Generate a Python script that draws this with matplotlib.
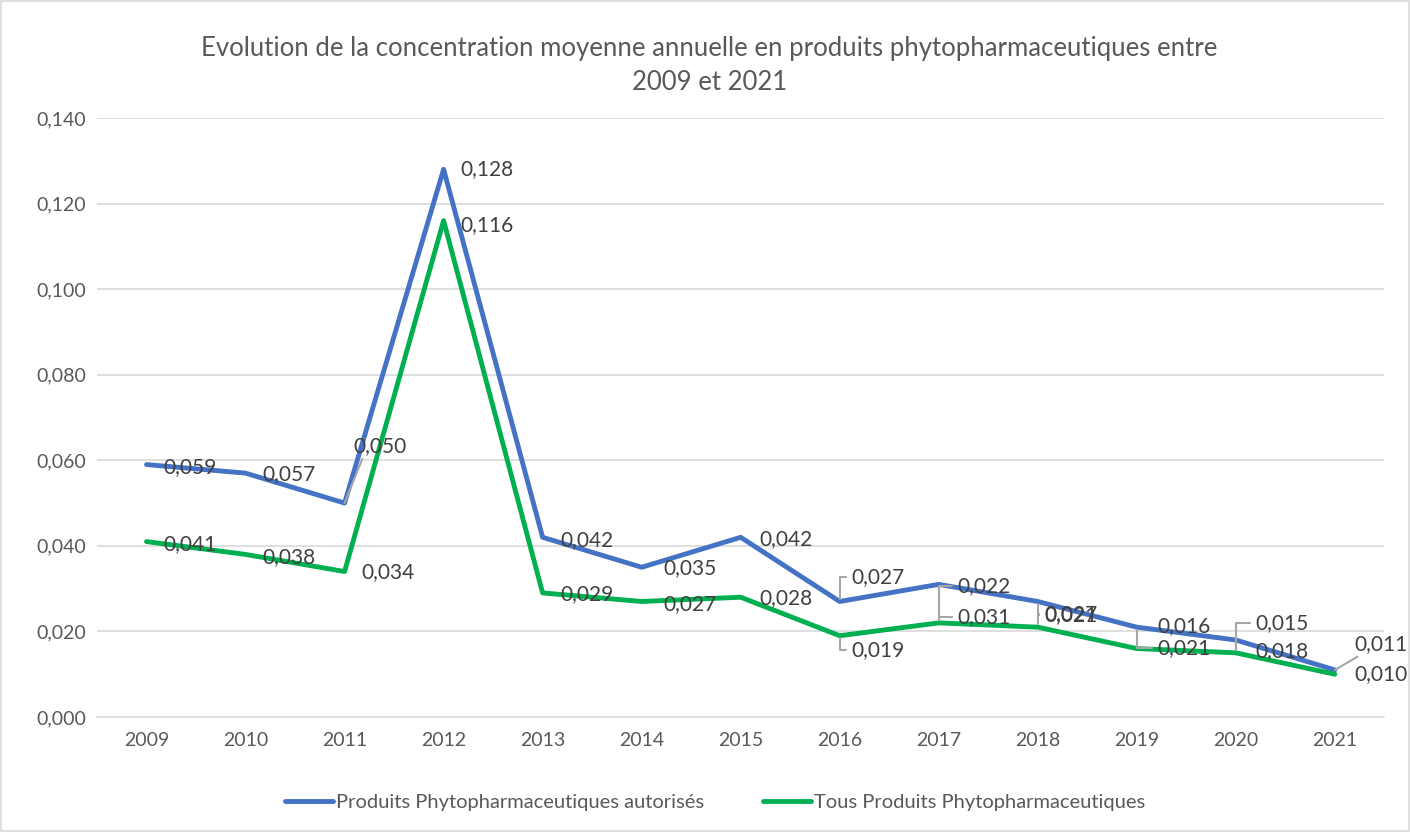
import matplotlib.pyplot as plt
from matplotlib.patches import Rectangle

years = ["2009", "2010", "2011", "2012", "2013", "2014", "2015",
         "2016", "2017", "2018", "2019", "2020", "2021"]
autorises = [0.059, 0.057, 0.050, 0.128, 0.042, 0.035, 0.042,
             0.027, 0.031, 0.027, 0.021, 0.018, 0.011]
tous = [0.041, 0.038, 0.034, 0.116, 0.029, 0.027, 0.028,
        0.019, 0.022, 0.021, 0.016, 0.015, 0.010]

# label texts as shown in the chart (some swapped by Excel placement)
lab_blue = ["0,059", "0,057", "0,050", "0,128", "0,042", "0,035", "0,042",
            "0,027", "0,031", "0,027", "0,021", "0,018", "0,011"]
lab_green = ["0,041", "0,038", "0,034", "0,116", "0,029", "0,027", "0,028",
             "0,019", "0,022", "0,021", "0,016", "0,015", "0,010"]

# label offsets in pixels (dx, dy up) and leader kind
off_blue = [(17, -3), (17, -1), (9, 57), (17, 0), (18, -3), (22, -1), (19, -2),
            (12, 24), (19, -33), (7, -13), (21, -21), (20, -11), (20, 26)]
lead_blue = [None, None, "line", None, None, None, None,
             "angle", "angle", "angle", "angle", None, "line"]
off_green = [(17, -3), (17, -3), (17, -1), (17, -4), (18, -1), (22, -3), (19, -1),
             (12, -14), (19, 37), (7, 12), (21, 22), (20, 30), (20, 0)]
lead_green = [None, None, None, None, None, None, None,
              "angle", "angle", "angle", None, "angle", None]

plt.rcParams['font.family'] = ['Lato', 'DejaVu Sans']

fig = plt.figure(figsize=(14.1, 8.32), dpi=100)
fig.patches.append(Rectangle((0.001, 0.001), 0.998, 0.998, transform=fig.transFigure,
                             fill=False, edgecolor="#D9D9D9", lw=1.2))
ax = fig.add_axes([0.0688, 0.1382, 0.913, 0.72])

x = list(range(len(years)))
ax.plot(x, autorises, color="#4472C4", lw=3.5, solid_capstyle="round",
        label="Produits Phytopharmaceutiques autorisés", zorder=3)
ax.plot(x, tous, color="#00B050", lw=3.5, solid_capstyle="round",
        label="Tous Produits Phytopharmaceutiques", zorder=3)


def put_labels(vals, labs, offs, leads):
    for i, v in enumerate(vals):
        kw = {}
        if leads[i] == "line":
            kw["arrowprops"] = dict(arrowstyle="-", color="#A6A6A6", lw=1.5,
                                    shrinkA=0, shrinkB=0, relpos=(0.2, 0.1))
        elif leads[i] == "angle":
            kw["arrowprops"] = dict(arrowstyle="-", color="#A6A6A6", lw=1.5,
                                    shrinkA=2, shrinkB=2, relpos=(0, 0.5),
                                    connectionstyle="angle,angleA=0,angleB=90,rad=0")
        ax.annotate(labs[i], (i, v), xytext=offs[i], textcoords="offset pixels",
                    ha="left", va="center", fontsize=15, color="#404040",
                    zorder=4, **kw)


put_labels(autorises, lab_blue, off_blue, lead_blue)
put_labels(tous, lab_green, off_green, lead_green)

ax.set_xlim(-0.5, 12.5)
ax.set_ylim(0, 0.14)
ax.set_xticks(x)
ax.set_xticklabels(years)
yt = [0.0, 0.02, 0.04, 0.06, 0.08, 0.10, 0.12, 0.14]
ax.set_yticks(yt)
ax.set_yticklabels([f"{v:.3f}".replace(".", ",") for v in yt])
ax.tick_params(axis="both", length=0, labelsize=14, labelcolor="#595959")
ax.tick_params(axis="x", pad=11)
ax.tick_params(axis="y", pad=8)
ax.grid(axis="y", color="#D9D9D9", lw=1.2)
ax.set_axisbelow(True)
for s in ["top", "right", "left"]:
    ax.spines[s].set_visible(False)
ax.spines["bottom"].set_color("#D9D9D9")
ax.spines["bottom"].set_linewidth(1.2)

fig.text(0.503, 0.921, "Evolution de la concentration moyenne annuelle en produits phytopharmaceutiques entre\n2009 et 2021",
         ha="center", va="center", fontsize=18.5, color="#595959", linespacing=1.45)

fig.legend(loc="center", bbox_to_anchor=(0.507, 0.035), ncol=2, frameon=False,
           fontsize=14.5, labelcolor="#595959", handlelength=2.4, handletextpad=0.15,
           columnspacing=2.9)

fig.savefig("out.png", dpi=100)
